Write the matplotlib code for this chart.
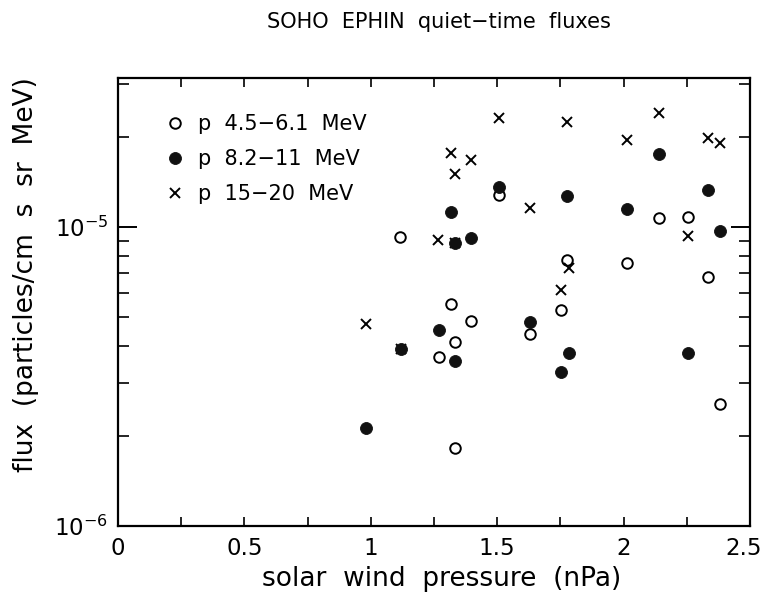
import matplotlib
matplotlib.use("Agg")
import matplotlib.pyplot as plt
import matplotlib.transforms as mtransforms
from matplotlib.ticker import LogLocator, FixedLocator, NullFormatter, LogFormatterSciNotation
from matplotlib.lines import Line2D

plt.rcParams['font.family'] = ['DejaVu Sans']
plt.rcParams['mathtext.default'] = 'regular'

# ---- data ----
title = "SOHO  EPHIN  quiet\u2212time  fluxes"
xlabel = "solar  wind  pressure  (nPa)"
ylabel = "flux  (particles/cm  s  sr  MeV)"
labels = ["p  4.5\u22126.1  MeV", "p  8.2\u221211  MeV", "p  15\u221220  MeV"]

x_low = [1.115, 1.27, 1.316, 1.333, 1.333, 1.396, 1.507, 1.63, 1.751, 1.775,
         2.015, 2.14, 2.254, 2.335, 2.381]
y_low = [9.28e-6, 3.68e-6, 5.53e-6, 4.12e-6, 1.82e-6, 4.86e-6, 1.28e-5, 4.39e-6,
         5.28e-6, 7.76e-6, 7.56e-6, 1.07e-5, 1.08e-5, 6.82e-6, 2.56e-6]

x_mid = [0.981, 1.118, 1.27, 1.316, 1.333, 1.333, 1.396, 1.507, 1.63, 1.751,
         1.775, 1.784, 2.015, 2.14, 2.254, 2.335, 2.381]
y_mid = [2.13e-6, 3.91e-6, 4.52e-6, 1.125e-5, 8.86e-6, 3.57e-6, 9.21e-6, 1.36e-5,
         4.80e-6, 3.28e-6, 1.27e-5, 3.78e-6, 1.15e-5, 1.75e-5, 3.78e-6, 1.33e-5, 9.7e-6]

x_high = [0.981, 1.118, 1.267, 1.316, 1.333, 1.333, 1.396, 1.507, 1.63, 1.751,
          1.784, 1.775, 2.015, 2.14, 2.254, 2.335, 2.381]
y_high = [4.74e-6, 3.91e-6, 9.05e-6, 1.77e-5, 1.50e-5, 8.84e-6, 1.68e-5, 2.31e-5,
          1.16e-5, 6.16e-6, 7.31e-6, 2.25e-5, 1.95e-5, 2.41e-5, 9.35e-6, 1.99e-5, 1.905e-5]

xticks = [0, 0.5, 1, 1.5, 2, 2.5]
xtick_labels = ["0", "0.5", "1", "1.5", "2", "2.5"]

# ---- figure ----
fig = plt.figure(figsize=(7.66, 6.01), dpi=100)
ax = fig.add_axes([118/766, 1-526/601, 632/766, 448/601])

ax.plot(x_low, y_low, linestyle='none', marker='o', ms=7.6, mew=1.4,
        mfc='none', mec='black', zorder=3)
ax.plot(x_high, y_high, linestyle='none', marker='x', ms=6.8, mew=1.4,
        color='black', zorder=4)
ax.plot(x_mid, y_mid, linestyle='none', marker='o', ms=8.6, mew=0.6,
        mfc='#111111', mec='#111111', zorder=5)

ax.set_yscale('log')
ax.set_xlim(0, 2.5)
ax.set_ylim(1e-6, 10**(-5+0.498))

ax.xaxis.set_major_locator(FixedLocator(xticks))
ax.set_xticklabels(xtick_labels)
ax.xaxis.set_minor_locator(FixedLocator([0.25, 0.75, 1.25, 1.75, 2.25]))
ax.yaxis.set_major_locator(LogLocator(base=10, numticks=10))
ax.yaxis.set_minor_locator(LogLocator(base=10, subs=range(2, 10), numticks=20))
ax.yaxis.set_minor_formatter(NullFormatter())
ax.yaxis.set_major_formatter(LogFormatterSciNotation())

for sp in ax.spines.values():
    sp.set_linewidth(1.6)

ax.tick_params(axis='x', which='both', direction='in', top=True, bottom=True,
               length=6.5, width=1.2, labelsize=16.5, pad=8)
ax.tick_params(axis='y', which='major', direction='in', left=True, right=True,
               length=14, width=1.4, labelsize=16.5, pad=7)
ax.tick_params(axis='y', which='minor', direction='in', left=True, right=True,
               length=8, width=1.2)

# the last x tick label sits slightly left so it stays inside the figure, as in the reference
last = ax.get_xticklabels()[-1]
last.set_transform(last.get_transform() +
                   mtransforms.ScaledTranslation(-6/100, 0, fig.dpi_scale_trans))

ax.set_xlabel(xlabel, fontsize=19)
ax.xaxis.set_label_coords((442-118)/632, -(566-526)/448)
ax.set_ylabel(ylabel, fontsize=19)
ax.yaxis.set_label_coords(-(118-39)/632, 1-(274.5-78)/448)

fig.text(438.5/766, 1-22/601, title, ha='center', va='center', fontsize=15)

handles = [
    Line2D([], [], linestyle='none', marker='o', ms=7.6, mew=1.4, mfc='none', mec='black'),
    Line2D([], [], linestyle='none', marker='o', ms=8.6, mew=0.6, mfc='#111111', mec='#111111'),
    Line2D([], [], linestyle='none', marker='x', ms=6.8, mew=1.4, color='black'),
]
ax.legend(handles, labels, loc='upper left', bbox_to_anchor=((165-118)/632, 1-(114-78)/448),
          frameon=False, fontsize=15, handlelength=1.0, handletextpad=0.56,
          labelspacing=0.72, borderpad=0, borderaxespad=0)

fig.savefig("out.png", dpi=100)
